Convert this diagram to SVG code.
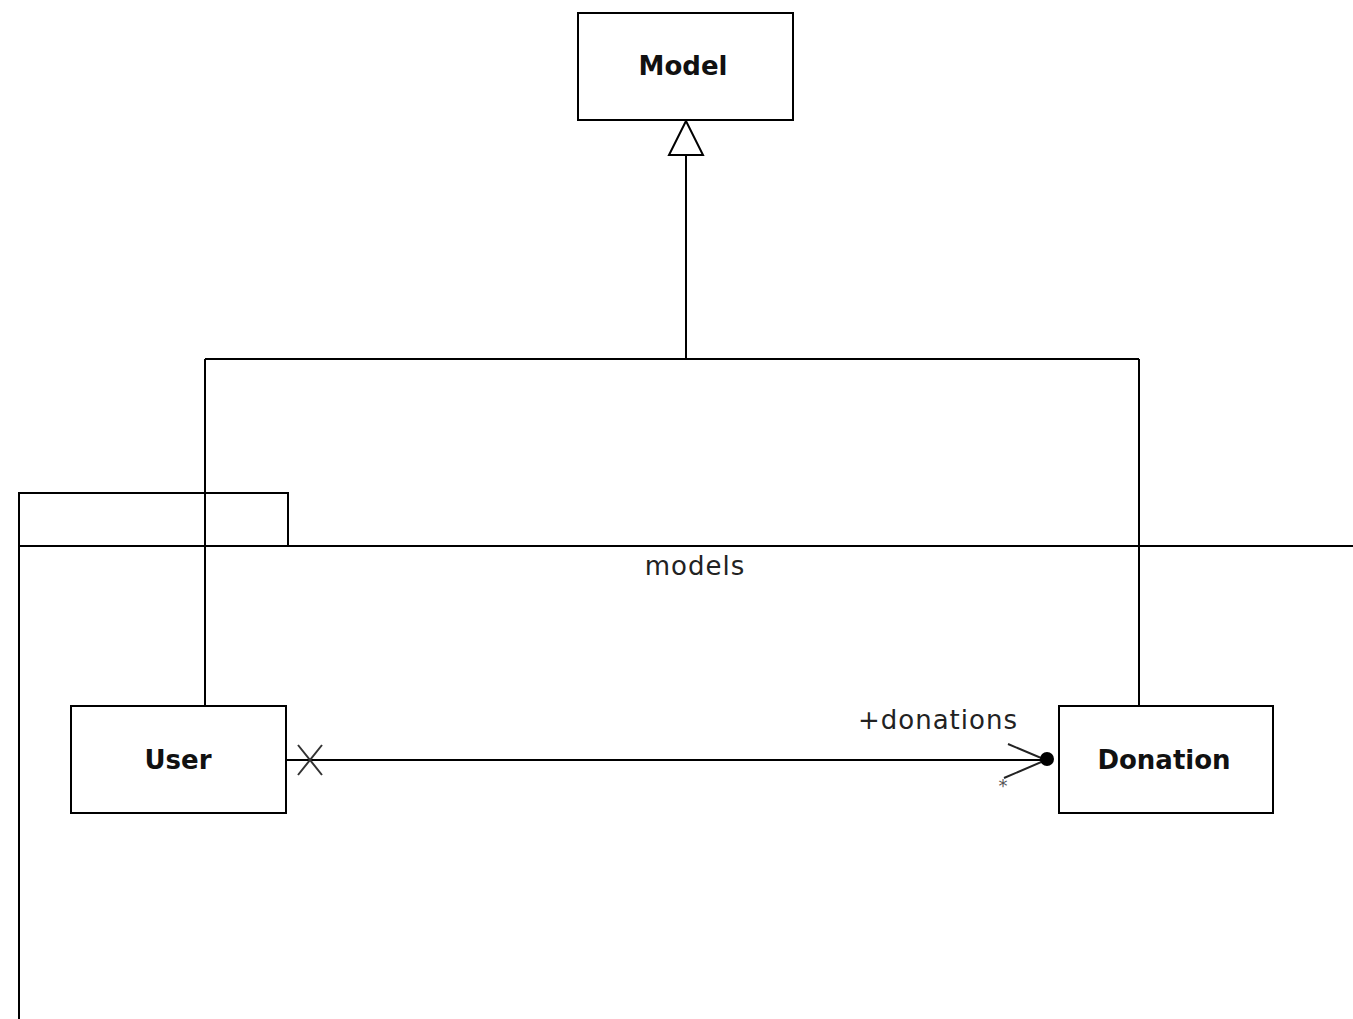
<svg xmlns="http://www.w3.org/2000/svg" width="1353" height="1019" viewBox="0 0 1353 1019">
<style>
.box{fill:#fff;stroke:#000;stroke-width:2}
.ln{fill:none;stroke:#000;stroke-width:2}
.bold{font-family:"DejaVu Sans",sans-serif;font-weight:bold;font-size:26px;fill:#111;text-anchor:middle}
.reg{font-family:"DejaVu Sans",sans-serif;font-size:26px;fill:#222}
</style>
<rect width="1353" height="1019" fill="#fff"/>
<g id="package-models">
<path class="ln" d="M19,1019 V493 H288 V546 M19,546 H1353"/>
<text class="reg" x="695" y="575" text-anchor="middle" letter-spacing="1">models</text>
</g>
<g id="connectors">
<path class="ln" d="M686,155 V359 M205,359 H1139 M205,359 V706 M1139,359 V706"/>
<polygon points="686,121 669,155 703,155" fill="#fff" stroke="#000" stroke-width="2"/>
<line class="ln" x1="286" y1="760" x2="1046" y2="760"/>
<path d="M298,745 L322,775 M322,745 L298,775" fill="none" stroke="#333" stroke-width="2"/>
<path d="M1008,744 L1046,760 L1004,778" fill="none" stroke="#222" stroke-width="2"/>
<circle cx="1047" cy="759" r="7" fill="#000"/>
<text class="reg" x="858" y="729" letter-spacing="1">+donations</text>
<text x="1003" y="792" font-family="DejaVu Sans, sans-serif" font-size="18" fill="#555" text-anchor="middle">*</text>
</g>
<g id="node-model">
<rect class="box" x="578" y="13" width="215" height="107"/>
<text class="bold" x="683" y="75">Model</text>
</g>
<g id="node-user">
<rect class="box" x="71" y="706" width="215" height="107"/>
<text class="bold" x="178" y="769">User</text>
</g>
<g id="node-donation">
<rect class="box" x="1059" y="706" width="214" height="107"/>
<text class="bold" x="1164" y="769">Donation</text>
</g>
</svg>
